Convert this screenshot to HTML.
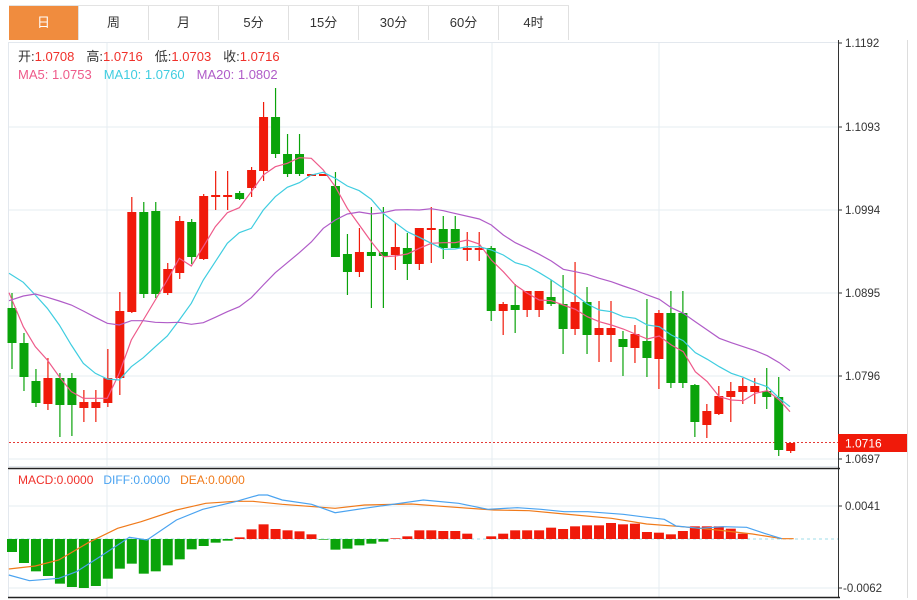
<!DOCTYPE html>
<html><head><meta charset="utf-8">
<style>
body{margin:0;background:#fff;width:917px;height:600px;overflow:hidden;font-family:"Liberation Sans","Noto Sans CJK SC",sans-serif;}
.tabs{position:absolute;left:9px;top:5px;height:35px;display:flex;border-top:1px solid #e3e3e3;}
.tab{width:69px;height:34px;border-right:1px solid #e0e0e0;text-align:center;line-height:34px;font-size:13px;color:#333;}
.tab.on{background:#f08c3e;color:#fff;}
svg{position:absolute;left:0;top:0;}
</style></head><body>
<div class="tabs"><div class="tab on">日</div><div class="tab">周</div><div class="tab">月</div><div class="tab">5分</div><div class="tab">15分</div><div class="tab">30分</div><div class="tab">60分</div><div class="tab">4时</div></div>
<svg id="s" width="917" height="600" xmlns="http://www.w3.org/2000/svg" font-family="Liberation Sans, Noto Sans CJK SC, sans-serif"></svg>
<script>
const S=document.getElementById('s');let h='';
// grid
h+='<rect x="8.5" y="42.5" width="830" height="424" fill="none" stroke="#e3e8ee"/>';
[127,210,293,376,459].forEach(y=>h+=`<line x1="9" x2="838" y1="${y}" y2="${y}" stroke="#e6ecf2"/>`);
[107,492,659].forEach(x=>{h+=`<line x1="${x}" x2="${x}" y1="43" y2="466" stroke="#e6ecf2"/><line x1="${x}" x2="${x}" y1="470" y2="597" stroke="#e6ecf2"/>`});
[506,588].forEach(y=>h+=`<line x1="9" x2="838" y1="${y}" y2="${y}" stroke="#e6ecf2"/>`);
h+='<line x1="8.5" x2="8.5" y1="470" y2="598" stroke="#e3e8ee"/>';
// axes
h+='<line x1="838.5" x2="838.5" y1="40" y2="598" stroke="#333"/>';
h+='<line x1="8" x2="840" y1="468.5" y2="468.5" stroke="#222" stroke-width="1.5"/>';
h+='<line x1="8" x2="840" y1="597.5" y2="597.5" stroke="#222" stroke-width="1.5"/>';
h+='<line x1="907.5" x2="907.5" y1="40" y2="598" stroke="#ddd"/>';
[[43,'1.1192'],[127,'1.1093'],[210,'1.0994'],[293,'1.0895'],[376,'1.0796'],[459,'1.0697'],[506,'0.0041'],[588,'-0.0062']].forEach(([y,t])=>{h+=`<line x1="838" x2="842" y1="${y}" y2="${y}" stroke="#333"/><text x="${t[0]=='-'?843:845}" y="${y+4}" font-size="11.5" fill="#333">${t}</text>`});
// current price
h+='<line x1="9" x2="838" y1="442.5" y2="442.5" stroke="#e53935" stroke-dasharray="2,2"/>';
h+='<rect x="838" y="434" width="69" height="18" fill="#f01a0a"/><text x="845" y="447.5" font-size="12" fill="#fff">1.0716</text>';
// candles: [open,close,high,low] in y px
const C=[[308,343,293,369],[343,377,333,391],[381,403,369,407],[404,378,358,410],[378,405,373,437],[378,405,373,436],[408,402,390,422],[408,402,390,422],[403,378,349,407],[378,311,292,395],[312,212,197,313],[212,294,202,298],[211,294,202,298],[293,269,263,295],[273,221,216,279],[222,257,219,264],[259,196,194,260],[197,195,171,210],[197,195,171,210],[193,199,191,200],[188,170,167,197],[171,117,102,181],[117,154,88,158],[154,174,134,177],[154,174,134,176],[176,174,174,176],[176,174,174,176],[186,257,172,257],[254,272,234,295],[272,252,228,277],[252,256,207,308],[252,256,207,308],[255,247,223,270],[248,264,233,280],[264,228,228,270],[230,228,207,263],[229,248,216,259],[229,248,216,248],[250,248,232,261],[250,248,232,261],[248,311,246,321],[311,304,302,335],[305,310,284,333],[310,291,291,317],[310,291,291,317],[297,304,280,306],[304,329,275,354],[329,302,262,335],[302,335,287,354],[335,328,301,362],[335,328,301,362],[339,347,331,376],[348,334,325,363],[341,358,299,377],[359,313,310,389],[313,383,291,388],[313,383,291,388],[385,422,384,437],[425,411,404,438],[414,396,386,415],[397,391,382,422],[392,386,378,404],[392,386,378,404],[391,397,368,409],[397,450,377,456],[451,443,443,453]];
const X=i=>12+i*11.98;
C.forEach((c,i)=>{const x=X(i),[o,cl,hi,lo]=c,up=cl<=o,col=up?'#f01a0a':'#0aa30a';
h+=`<line x1="${x}" x2="${x}" y1="${hi}" y2="${lo}" stroke="${col}" stroke-width="1.2"/>`;
const t=Math.min(o,cl),b=Math.max(Math.max(o,cl),t+2);
h+=`<rect x="${x-4.5}" y="${t}" width="9" height="${b-t}" fill="${col}"/>`;});
function pl(a,b,c,col,ox,oy,sx,sy){let p=a.map(q=>[(ox+q[0]/sx).toFixed(1),(oy+q[1]/sy).toFixed(1)].join(','));return p;}
function line(p1,p2,col,w){h+=`<polyline points="${p1.concat(p2||[]).join(' ')}" fill="none" stroke="${col}" stroke-width="${w||1.2}"/>`;}
line(pl([[27,638],[70,740],[106,800],[142,840],[178,890],[214,935],[250,955],[286,955],[322,955],[358,880],[394,780],[430,720],[466,660],[502,600],[538,535],[574,558],[610,500],[646,440],[682,398],[718,383],[754,335],[790,285],[826,260],[862,250],[898,233],[934,235],[970,270],[1006,320],[1042,385],[1078,435],[1114,485],[1150,530],[1186,528],[1222,522],[1258,505],[1294,490],[1330,488]],0,0,0,0,80,3,3),pl([[15,188],[52,180],[88,192],[124,240],[160,275],[196,315],[232,340],[268,360],[304,362],[340,375],[376,388],[412,410],[448,425],[484,435],[520,447],[556,462],[592,477],[628,468],[664,495],[700,515],[736,575],[772,605],[808,650],[844,660],[880,662],[916,640],[952,632],[988,660],[1020,695]],0,0,0,450,180,3,3),'#ee5a8a');
line(pl([[27,580],[70,607],[106,645],[142,685],[178,735],[214,795],[250,850],[286,880],[322,897],[358,900],[394,860],[430,833],[466,800],[502,768],[538,720],[574,670],[610,600],[646,545],[682,490],[718,458],[754,445],[790,390],[826,350],[862,322],[898,308],[934,285],[970,277],[1006,295],[1042,318],[1078,332],[1114,358],[1150,400],[1186,428],[1222,455],[1258,472],[1294,490],[1330,508]],0,0,0,0,80,3,3),pl([[15,207],[52,200],[88,200],[124,210],[160,225],[196,248],[232,258],[268,278],[304,300],[340,325],[376,345],[412,372],[448,390],[484,395],[520,410],[556,415],[592,435],[628,440],[664,465],[700,482],[736,518],[772,538],[808,560],[844,580],[880,592],[916,608],[952,620],[988,655],[1020,680]],0,0,0,450,180,3,3),'#3fcde0');
line(pl([[27,662],[70,648],[106,642],[142,652],[178,663],[214,675],[250,693],[286,712],[322,730],[358,735],[394,722],[430,722],[466,727],[502,728],[538,727],[574,733],[610,728],[646,712],[682,695],[718,680],[754,653],[790,615],[826,578],[862,548],[898,518],[934,486],[970,445],[1006,420],[1042,402],[1078,396],[1114,402],[1150,398],[1186,390],[1222,389],[1258,390],[1294,386],[1330,392]],0,0,0,0,80,3,3),pl([[0,97],[88,117],[124,135],[160,165],[196,188],[232,205],[268,223],[304,243],[340,268],[376,275],[412,283],[448,295],[484,305],[520,318],[556,330],[592,345],[628,358],[664,383],[700,400],[736,425],[772,450],[808,475],[844,488],[880,500],[916,512],[952,527],[988,548],[1020,572]],0,0,0,450,180,3,3),'#b05cc8');
// MACD
h+='<line x1="9" x2="838" y1="539" y2="539" stroke="#9fdcea" stroke-dasharray="3,3"/>';
const M=[275,308,333,347,370,380,383,377,355,325,310,340,333,315,297,267,257,247,241,231,207,192,206,210,213,222,238,268,265,255,250,244,234,228,210,210,212,212,220,236,228,220,210,210,210,202,206,198,195,195,188,192,190,215,217,222,212,198,198,198,205,220,236,236];
M.forEach((v,i)=>{const d=(v-236)/3;if(Math.abs(d)<0.3)return;const x=X(i);
h+=`<rect x="${x-5}" y="${d>0?539:539+d}" width="10" height="${Math.abs(d)}" fill="${d>0?'#0aa30a':'#f01a0a'}"/>`;});
line(pl([[15,327],[60,318],[100,300],[150,248],[200,205],[240,185],[300,150],[350,130],[400,124],[430,124],[480,133],[570,145],[620,135],[700,132],[760,140],[840,150],[900,152],[960,162],[1040,175],[1100,192],[1160,200],[1220,210],[1280,222],[1330,236],[1350,236]],0,0,0,0,460,1.701,3),null,'#f07a1a');
line(pl([[15,345],[50,362],[100,355],[130,335],[170,290],[220,232],[250,240],[300,180],[345,148],[400,125],[440,105],[455,105],[480,120],[530,133],[570,158],[620,145],[680,130],[720,120],[780,130],[830,148],[880,143],[920,148],[960,155],[1000,155],[1060,163],[1100,172],[1130,178],[1150,198],[1190,205],[1230,200],[1270,202],[1300,220],[1330,236]],0,0,0,0,460,1.701,3),null,'#4aa3f0');
// legends
h+='<text x="18" y="61" font-size="13"><tspan fill="#333">开:</tspan><tspan fill="#f0302a">1.0708</tspan><tspan fill="#333" dx="12">高:</tspan><tspan fill="#f0302a">1.0716</tspan><tspan fill="#333" dx="12">低:</tspan><tspan fill="#f0302a">1.0703</tspan><tspan fill="#333" dx="12">收:</tspan><tspan fill="#f0302a">1.0716</tspan></text>';
h+='<text x="18" y="79" font-size="13"><tspan fill="#ee5a8a">MA5: 1.0753</tspan><tspan fill="#3fcde0" dx="12">MA10: 1.0760</tspan><tspan fill="#b05cc8" dx="12">MA20: 1.0802</tspan></text>';
h+='<text x="18" y="484" font-size="12"><tspan fill="#f0302a">MACD:0.0000</tspan><tspan fill="#4aa3f0" dx="10">DIFF:0.0000</tspan><tspan fill="#f07a1a" dx="10">DEA:0.0000</tspan></text>';
S.innerHTML=h;
</script>
</body></html>
